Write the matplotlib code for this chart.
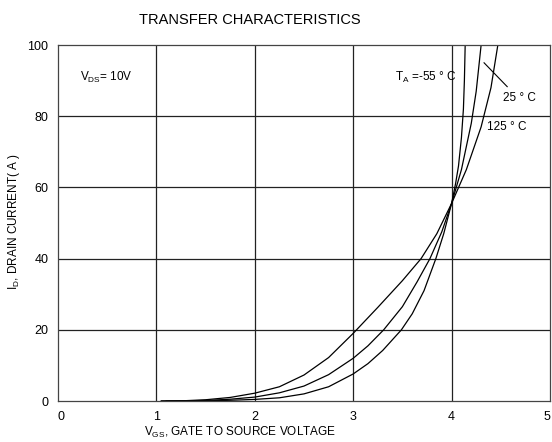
import matplotlib
matplotlib.use("Agg")
import matplotlib.pyplot as plt

# VGS (V) and ID (A), one pair of lists per temperature
vgs_125 = [1.05, 1.3, 1.5, 1.75, 2.0, 2.25, 2.5, 2.75, 3.0, 3.25, 3.5, 3.69, 3.85, 4.0,
           4.15, 4.3, 4.4, 4.47]
id_125 = [0, 0.1, 0.35, 1.0, 2.2, 4.0, 7.3, 12.2, 19.0, 26.3, 33.8, 40.0, 47.0, 55.5,
          65.0, 77.0, 88.0, 100]

vgs_25 = [1.05, 1.3, 1.5, 1.75, 2.0, 2.25, 2.5, 2.75, 3.0, 3.15, 3.31, 3.5, 3.65, 3.78,
          3.9, 4.0, 4.1, 4.2, 4.25, 4.3]
id_25 = [0, 0.05, 0.15, 0.5, 1.1, 2.3, 4.2, 7.4, 12.0, 15.5, 20.0, 26.5, 33.5, 40.0,
         47.5, 55.5, 65.0, 78.0, 87.0, 100]

vgs_m55 = [1.1, 1.5, 1.75, 2.0, 2.25, 2.5, 2.75, 3.0, 3.15, 3.3, 3.49, 3.6, 3.72, 3.84,
           3.92, 4.0, 4.04, 4.07, 4.1, 4.12, 4.13, 4.138]
id_m55 = [0, 0.05, 0.2, 0.45, 0.9, 2.0, 4.0, 7.6, 10.5, 14.2, 20.0, 24.5, 31.0, 40.0,
          47.0, 55.5, 61.0, 66.0, 74.0, 82.0, 90.0, 100]

x_ticks = [0, 1, 2, 3, 4, 5]
y_ticks = [0, 20, 40, 60, 80, 100]

narrow = ["Liberation Sans Narrow", "Liberation Sans", "DejaVu Sans"]


def main():
    fig = plt.figure(figsize=(5.52, 4.42), dpi=100)
    ax = fig.add_axes([58 / 552, 41 / 442, 492 / 552, 356 / 442])

    ax.set_xlim(0, 5)
    ax.set_ylim(0, 100)
    ax.set_xticks(x_ticks)
    ax.set_yticks(y_ticks)
    ax.tick_params(length=0, labelsize=9, pad=7)
    for lab in ax.get_xticklabels() + ax.get_yticklabels():
        lab.set_family("Liberation Sans")
    ax.get_xticklabels()[-1].set_ha("right")
    ax.get_xticklabels()[0].set_ha("left")

    for v in x_ticks[1:-1]:
        ax.axvline(v, color="#222222", lw=0.9, zorder=1)
    for v in y_ticks[1:-1]:
        ax.axhline(v, color="#222222", lw=0.9, zorder=1)
    for s in ax.spines.values():
        s.set_color("#444444")
        s.set_linewidth(0.9)

    ax.plot(vgs_125, id_125, color="black", lw=0.9, zorder=2)
    ax.plot(vgs_25, id_25, color="black", lw=0.9, zorder=2)
    ax.plot(vgs_m55, id_m55, color="black", lw=0.9, zorder=2)

    ax.text(0.22, 91, r"$\mathregular{V_{DS}}$= 10V", fontsize=8.5, family=narrow, va="center")
    ax.text(3.42, 91, r"$\mathregular{T_A}$ =-55 ° C", fontsize=8.5, family=narrow, va="center")
    ax.text(4.52, 85, "25 ° C", fontsize=8.5, family=narrow, va="center")
    ax.text(4.36, 77, "125 ° C", fontsize=8.5, family=narrow, va="center")
    ax.plot([4.33, 4.565], [95, 88.3], color="black", lw=0.8)

    fig.text(250 / 552, 1 - 20 / 442, "TRANSFER CHARACTERISTICS", fontsize=10.5,
             family=narrow, ha="center", va="center")
    fig.text(240 / 552, 1 - 432 / 442, r"$\mathregular{V_{GS}}$, GATE TO SOURCE VOLTAGE",
             fontsize=8.5, family=narrow, ha="center", va="center")
    fig.text(14 / 552, 1 - 222 / 442, r"$\mathregular{I_D}$, DRAIN CURRENT( A )",
             fontsize=8.5, family=narrow, ha="center", va="center", rotation=90)

    fig.savefig("out.png", dpi=100)


if __name__ == "__main__":
    main()
